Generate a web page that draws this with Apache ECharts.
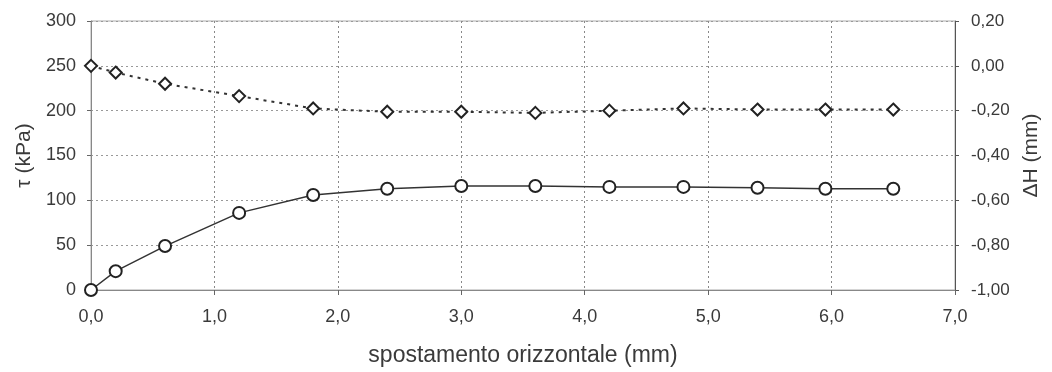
<!DOCTYPE html>
<html lang="it">
<head>
    <meta charset="utf-8"/>
    <title>Prova di taglio</title>
    <script src="https://cdn.jsdelivr.net/npm/echarts@6/dist/echarts.min.js"></script>
    <style>
        html, body { margin: 0; padding: 0; background: #fff; }
        #main { width: 1052px; height: 372px; }
    </style>
</head>
<body>
<div id="main"></div>
<script>
    // spostamento orizzontale (mm)
    var xMm = [0, 0.2, 0.6, 1.2, 1.8, 2.4, 3.0, 3.6, 4.2, 4.8, 5.4, 5.95, 6.5];
    // tau (kPa)
    var tau = [0, 21, 49, 86, 106, 113, 116, 116, 115, 115, 114, 113, 113];
    // deltaH (mm)
    var deltaH = [0.00, -0.03, -0.08, -0.135, -0.19, -0.205, -0.205, -0.21, -0.20, -0.19, -0.195, -0.195, -0.195];

    var font = 'Liberation Sans, Arial, sans-serif';
    var txt = '#3a3a3a';

    function pairs(xs, ys) {
        return xs.map(function (x, i) { return [x, ys[i]]; });
    }
    function comma(v, d) {
        return v.toFixed(d).replace('.', ',');
    }

    var chart = echarts.init(document.getElementById('main'));
    var option = {
        animation: false,
        grid: {
            left: 91, right: 97, top: 21, bottom: 80,
            show: true, borderColor: '#aaa', borderWidth: 1
        },
        xAxis: {
            type: 'value', min: 0, max: 7, interval: 1,
            name: 'spostamento orizzontale (mm)',
            nameLocation: 'middle', nameGap: 54,
            nameTextStyle: { fontFamily: font, fontSize: 23, color: txt },
            axisLine: { lineStyle: { color: '#888' } },
            axisTick: { show: true, length: 5, lineStyle: { color: '#666' } },
            axisLabel: {
                fontFamily: font, fontSize: 18, color: txt, margin: 18,
                formatter: function (v) { return comma(v, 1); }
            },
            splitLine: { show: true, lineStyle: { color: '#888', type: [2, 3] } }
        },
        yAxis: [
            {
                type: 'value', min: 0, max: 300, interval: 50,
                name: 'τ (kPa)', nameLocation: 'middle', nameGap: 54, nameRotate: 90,
                nameTextStyle: { fontFamily: font, fontSize: 21, color: txt },
                axisLine: { show: true, lineStyle: { color: '#888' } },
                axisTick: { show: true, length: 4, lineStyle: { color: '#666' } },
                axisLabel: { fontFamily: font, fontSize: 18, color: txt, margin: 15 },
                splitLine: { show: true, lineStyle: { color: '#999', type: [2, 3] } }
            },
            {
                type: 'value', min: -1, max: 0.2, interval: 0.2, position: 'right',
                name: 'ΔH (mm)', nameLocation: 'middle', nameGap: 61, nameRotate: 90,
                nameTextStyle: { fontFamily: font, fontSize: 21, color: txt },
                axisLine: { show: true, lineStyle: { color: '#555' } },
                axisTick: { show: true, length: 4, lineStyle: { color: '#555' } },
                axisLabel: {
                    fontFamily: font, fontSize: 17, color: txt, margin: 16,
                    formatter: function (v) { return comma(v, 2); }
                },
                splitLine: { show: false }
            }
        ],
        series: [
            {
                name: 'tau', type: 'line', yAxisIndex: 0,
                data: pairs(xMm, tau),
                symbol: 'circle', symbolSize: 12,
                lineStyle: { color: '#333', width: 1.5 },
                itemStyle: { color: '#fff', borderColor: '#222', borderWidth: 2 }
            },
            {
                name: 'deltaH', type: 'line', yAxisIndex: 1,
                data: pairs(xMm, deltaH),
                symbol: 'diamond', symbolSize: 12,
                lineStyle: { color: '#333', width: 2, type: [3, 5] },
                itemStyle: { color: '#fff', borderColor: '#222', borderWidth: 2 }
            }
        ]
    };
    chart.setOption(option);
</script>
</body>
</html>
